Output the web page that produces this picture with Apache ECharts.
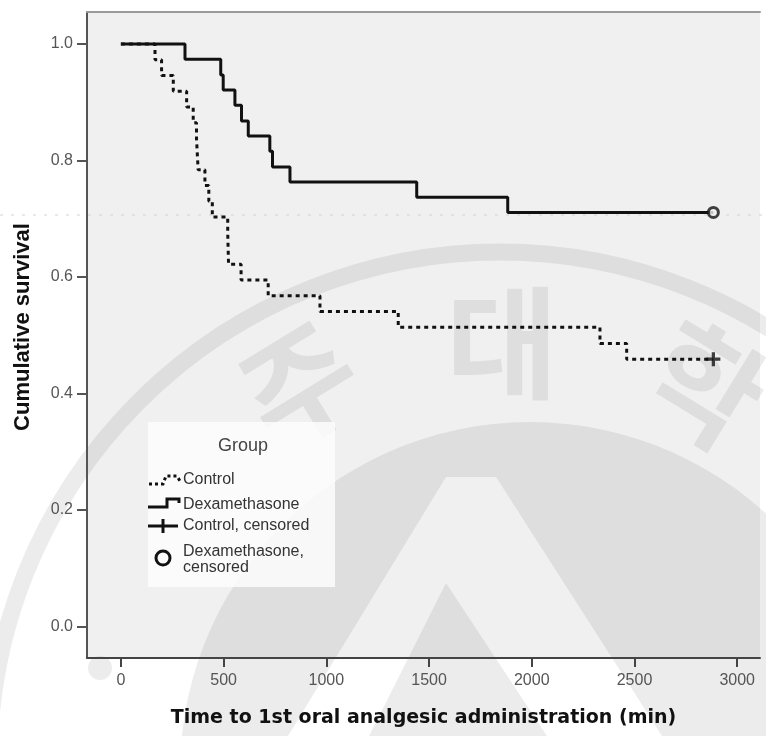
<!DOCTYPE html>
<html><head><meta charset="utf-8">
<script src="https://cdn.jsdelivr.net/npm/echarts@6/dist/echarts.min.js"></script>
<style>html,body{margin:0;padding:0;background:#fff}#c{width:766px;height:736px}</style>
</head><body><div id="c"></div>
<script>
const xTicks = [0, 500, 1000, 1500, 2000, 2500, 3000];
const yTicks = [0, 0.2, 0.4, 0.6, 0.8, 1.0];
const controlTime = [0, 166, 198, 255, 320, 352, 368, 372, 376, 409, 428, 445, 520, 522, 524, 585, 717, 969, 1350, 2332, 2462, 2884];
const controlSurv = [1, 0.973, 0.946, 0.919, 0.892, 0.865, 0.838, 0.811, 0.784, 0.757, 0.730, 0.703, 0.676, 0.649, 0.622, 0.595, 0.568, 0.541, 0.514, 0.486, 0.459, 0.459];
const dexTime = [0, 312, 486, 498, 555, 587, 620, 725, 738, 823, 1440, 1883, 2884];
const dexSurv = [1, 0.974, 0.947, 0.921, 0.895, 0.868, 0.842, 0.816, 0.789, 0.763, 0.737, 0.711, 0.711];
const controlCensoredTime = [2884];
const controlCensoredSurv = [0.459];
const dexCensoredTime = [2884];
const dexCensoredSurv = [0.711];
const legendTitle = 'Group';
const legendLabels = ['Control', 'Dexamethasone', 'Control, censored', 'Dexamethasone,', 'censored'];
const watermarkChars = ['주', '대', '학'];

const zip = (a, b) => a.map((v, i) => [v, b[i]]);
const chart = echarts.init(document.getElementById('c'), null, {renderer: 'canvas'});
const lblFont = '"Liberation Sans", Arial, sans-serif';
const legendFont = '16px "Liberation Sans", Arial, sans-serif';
const wm = 'rgba(0,0,0,0.075)';
const wmFont = 'bold 122px "Noto Sans CJK KR", sans-serif';

// watermark emblem disc with a letter-shaped hole (decoration only)
const discPts = [];
for (let k = 0; k <= 120; k++) {
  const a = -Math.PI / 2 + k * 2 * Math.PI / 120;
  discPts.push([530 + 350 * Math.cos(a), 772 + 350 * Math.sin(a)]);
}
const holePts = [[446, 477], [288, 736], [662, 736], [496, 477], [446, 477]];
const discShape = discPts.concat(holePts, [discPts[0]]);

chart.setOption({
  animation: false,
  backgroundColor: '#ffffff',
  grid: {left: 87, right: 6, top: 12, bottom: 78, show: true, backgroundColor: '#f0f0f0', borderWidth: 0},
  xAxis: [{
    type: 'value', min: -165, max: 3111, z: 2,
    name: 'Time to 1st oral analgesic administration (min)',
    nameLocation: 'middle', nameGap: 51,
    nameTextStyle: {fontFamily: '"DejaVu Sans", Verdana, sans-serif', fontWeight: 'bold', fontSize: 19, color: '#111'},
    axisLine: {show: true, onZero: false, lineStyle: {color: '#444', width: 2}},
    axisTick: {show: true, length: 9, customValues: xTicks, lineStyle: {color: '#444', width: 2}},
    axisLabel: {customValues: xTicks, margin: 15, fontFamily: lblFont, fontSize: 16, color: '#555',
      formatter: v => String(v)},
    splitLine: {show: false}
  }, {
    type: 'value', position: 'top', min: -165, max: 3111, z: 2,
    axisLine: {show: true, onZero: false, lineStyle: {color: '#9a9a9a', width: 2}},
    axisTick: {show: false}, axisLabel: {show: false}, splitLine: {show: false}
  }],
  yAxis: {
    type: 'value', min: -0.054, max: 1.055, z: 2,
    name: 'Cumulative survival', nameLocation: 'middle', nameGap: 53,
    nameTextStyle: {fontFamily: lblFont, fontWeight: 'bold', fontSize: 22, color: '#111', padding: [0, 0, 0, 16]},
    axisLine: {show: true, onZero: false, lineStyle: {color: '#555', width: 2}},
    axisTick: {show: true, length: 10, customValues: yTicks, lineStyle: {color: '#555', width: 2}},
    axisLabel: {customValues: yTicks, margin: 14, fontFamily: lblFont, fontSize: 16, color: '#555',
      formatter: v => v.toFixed(1)},
    splitLine: {show: false}
  },
  series: [{
    name: 'Control', type: 'line', step: 'end', symbol: 'none',
    data: zip(controlTime, controlSurv),
    lineStyle: {color: '#111', width: 3, type: [4, 4]}, z: 3
  }, {
    name: 'Dexamethasone', type: 'line', step: 'end', symbol: 'none',
    data: zip(dexTime, dexSurv),
    lineStyle: {color: '#111', width: 3}, z: 3
  }, {
    name: 'Control, censored', type: 'scatter',
    symbol: 'path://M5,0 L8,0 L8,5 L13,5 L13,8 L8,8 L8,13 L5,13 L5,8 L0,8 L0,5 L5,5 Z',
    symbolSize: 14, itemStyle: {color: '#111'},
    data: zip(controlCensoredTime, controlCensoredSurv), z: 4
  }, {
    name: 'Dexamethasone, censored', type: 'scatter', symbol: 'circle', symbolSize: 10,
    itemStyle: {color: '#f0f0f0', borderColor: '#111', borderWidth: 3},
    data: zip(dexCensoredTime, dexCensoredSurv), z: 4
  }],
  graphic: [
    {type: 'circle', silent: true, z: 1, shape: {cx: 500, cy: 763, r: 511},
      style: {fill: null, stroke: wm, lineWidth: 17}},
    {type: 'polygon', silent: true, z: 1, shape: {points: discShape}, style: {fill: wm}},
    {type: 'polygon', silent: true, z: 1, shape: {points: [[446, 583], [547, 736], [369, 736]]}, style: {fill: wm}},
    {type: 'circle', silent: true, z: 1, shape: {cx: 100, cy: 668, r: 12}, style: {fill: wm}},
    {type: 'text', silent: true, z: 1, x: 300, y: 385, rotation: 0.55,
      style: {text: watermarkChars[0], align: 'center', verticalAlign: 'middle', font: wmFont, fill: wm}},
    {type: 'text', silent: true, z: 1, x: 502, y: 343,
      style: {text: watermarkChars[1], align: 'center', verticalAlign: 'middle', font: wmFont, fill: wm}},
    {type: 'text', silent: true, z: 1, x: 705, y: 385, rotation: -0.55,
      style: {text: watermarkChars[2], align: 'center', verticalAlign: 'middle', font: wmFont, fill: wm}},
    {type: 'line', silent: true, z: 1, shape: {x1: 0, y1: 215, x2: 766, y2: 215},
      style: {stroke: '#d2d2d2', lineWidth: 1, lineDash: [3, 8]}},
    {type: 'rect', z: 5, shape: {x: 148, y: 422, width: 187, height: 165}, style: {fill: 'rgba(253,253,253,0.85)'}},
    {type: 'text', z: 6, style: {text: legendTitle, x: 243, y: 446, align: 'center', verticalAlign: 'middle',
      font: '18px "Liberation Sans", Arial, sans-serif', fill: '#444'}},
    {type: 'polyline', z: 6, shape: {points: [[149, 484], [163, 484], [166, 476], [177, 476], [180, 481]]},
      style: {stroke: '#111', lineWidth: 3, lineDash: [3, 3], fill: null}},
    {type: 'polyline', z: 6, shape: {points: [[148, 507], [167, 507], [167, 499], [179, 499], [179, 503]]},
      style: {stroke: '#111', lineWidth: 3, fill: null}},
    {type: 'line', z: 6, shape: {x1: 148, y1: 526, x2: 178, y2: 526}, style: {stroke: '#111', lineWidth: 3}},
    {type: 'line', z: 6, shape: {x1: 163, y1: 519, x2: 163, y2: 533}, style: {stroke: '#111', lineWidth: 3}},
    {type: 'circle', z: 6, shape: {cx: 163, cy: 558, r: 7}, style: {fill: null, stroke: '#111', lineWidth: 3}},
    {type: 'text', z: 6, style: {text: legendLabels[0], x: 183, y: 480, verticalAlign: 'middle', font: legendFont, fill: '#333'}},
    {type: 'text', z: 6, style: {text: legendLabels[1], x: 183, y: 505, verticalAlign: 'middle', font: legendFont, fill: '#333'}},
    {type: 'text', z: 6, style: {text: legendLabels[2], x: 183, y: 526, verticalAlign: 'middle', font: legendFont, fill: '#333'}},
    {type: 'text', z: 6, style: {text: legendLabels[3], x: 183, y: 552, verticalAlign: 'middle', font: legendFont, fill: '#333'}},
    {type: 'text', z: 6, style: {text: legendLabels[4], x: 183, y: 568, verticalAlign: 'middle', font: legendFont, fill: '#333'}}
  ]
});
</script></body></html>
